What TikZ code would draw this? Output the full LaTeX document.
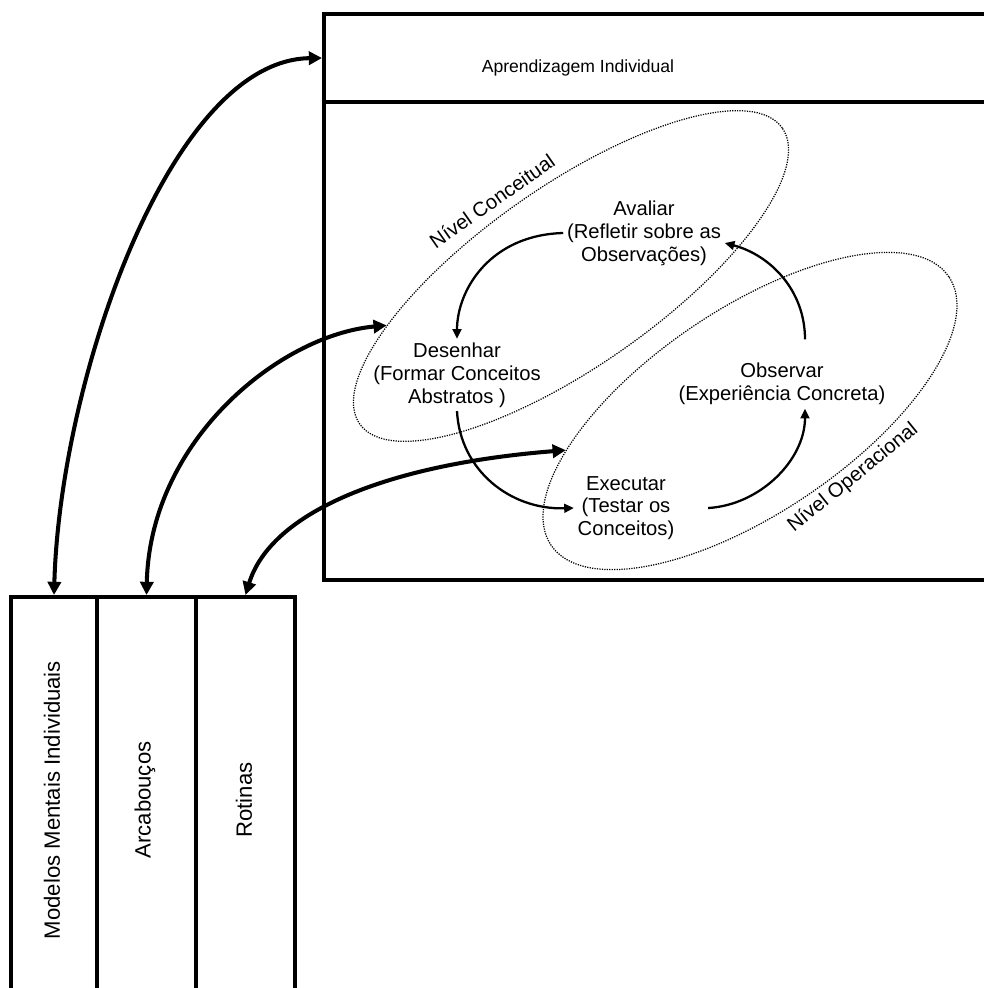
\documentclass[tikz,border=0pt]{standalone}
\usepackage{fontspec}
\setmainfont{Liberation Sans}
\usetikzlibrary{arrows.meta,shapes.geometric}
\tikzset{
	framebox/.style={draw, line width=2.3pt, inner sep=0pt, anchor=north west},
	stage/.style={align=center, inner sep=2pt, font=\fontsize{11.5}{13}\selectfont},
	lvlellipse/.style={draw, ellipse, inner sep=0pt, line width=0.7pt, dash pattern=on 0.7pt off 0.7pt},
	lvltxt/.style={font=\fontsize{11.5}{13}\selectfont},
	coltxt/.style={rotate=90, font=\fontsize{12.6}{15}\selectfont},
	dbl/.style={{Triangle[length=7.5pt,width=7.5pt]}-{Triangle[length=7.5pt,width=7.5pt]}, line width=2.3pt},
	cyc/.style={-{Triangle[length=5.5pt,width=5pt]}, line width=1.3pt}
}

\begin{document}
\begin{tikzpicture}[x=0.02cm, y=-0.02cm]
	\useasboundingbox (0,0) rectangle (984,988);
	\clip (0,0) rectangle (984,988);
	% frames
	\node[framebox, minimum width=13.36cm, minimum height=1.76cm] (apr) at (322,12) {};
	\node[framebox, minimum width=13.36cm, minimum height=9.56cm] (work) at (322,100) {};
	\node[anchor=base, font=\fontsize{10}{12}\selectfont] (aprtxt) at (578,72) {Aprendizagem Individual};
	\node[framebox, minimum width=1.72cm, minimum height=8cm] (mod) at (9,595) {};
	\node[framebox, minimum width=1.98cm, minimum height=8cm] (arc) at (95,595) {};
	\node[framebox, minimum width=1.98cm, minimum height=8cm] (rot) at (194,595) {};
	\node[coltxt] (modtxt) at (52,800) {Modelos Mentais Individuais};
	\node[coltxt] (arctxt) at (145,800) {Arcabouços};
	\node[coltxt] (rottxt) at (244,800) {Rotinas};
	% levels
	\node[lvlellipse, minimum width=10.32cm, minimum height=3.6cm, rotate=35] (conc) at (571,276) {};
	\node[lvlellipse, minimum width=9.6cm, minimum height=4.08cm, rotate=34] (oper) at (750,411) {};
	\node[lvltxt, rotate=35] (conctxt) at (492,201) {Nível Conceitual};
	\node[lvltxt, rotate=39, anchor=north, inner sep=1.5pt] (opertxt) at (oper.-65) {Nível Operacional};
	% cycle
	\node[stage] (aval) at (644,233) {Avaliar\\(Refletir sobre as\\Observações)};
	\node[stage] (des) at (457,375) {Desenhar\\(Formar Conceitos\\Abstratos )};
	\node[stage] (exe) at (626,508) {Executar\\(Testar os\\Conceitos)};
	\node[stage] (obs) at (782,384) {Observar\\(Experiência Concreta)};
	\draw[cyc] (aval.west) .. controls (490,235) and (457,290) .. (des.north);
	\draw[cyc] (des.south) .. controls (460,470) and (510,510) .. (exe.west);
	\draw[cyc] ([xshift=0.6cm]exe.east) .. controls (760,505) and (805,460) .. ([xshift=0.46cm]obs.south);
	\draw[cyc] ([xshift=0.46cm,yshift=0.4cm]obs.north) .. controls (805,290) and (770,255) .. ([yshift=-0.2cm]aval.east);
	% links
	\draw[dbl] (mod.north) .. controls (60,380) and (170,60) .. (apr.west);
	\draw[dbl] (arc.north) .. controls (150,440) and (280,335) .. (conc.160);
	\draw[dbl] (rot.north) .. controls (270,515) and (380,465) .. (oper.158);
\end{tikzpicture}
\end{document}
